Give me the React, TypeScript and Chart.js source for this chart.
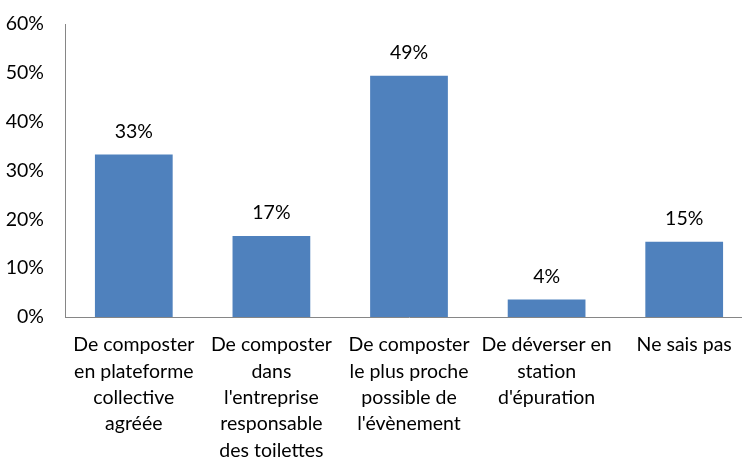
import React, { useEffect, useRef } from "react";
import { Chart, registerables } from "chart.js";

Chart.register(...registerables);

const categories: string[][] = [
  ["De composter", "en plateforme", "collective", "agréée"],
  ["De composter", "dans", "l'entreprise", "responsable", "des toilettes"],
  ["De composter", "le plus proche", "possible de", "l'évènement"],
  ["De déverser en", "station", "d'épuration"],
  ["Ne sais pas"],
];
const values: number[] = [0.333, 0.166, 0.494, 0.036, 0.154];
const yTicks: number[] = [0, 0.1, 0.2, 0.3, 0.4, 0.5, 0.6];

const FONT = "Lato, 'Liberation Sans', sans-serif";
const SIZE = 19.5;

const labelPlugin = {
  id: "barLabels",
  afterDatasetsDraw(chart: any) {
    const ctx = chart.ctx;
    const meta = chart.getDatasetMeta(0);
    ctx.save();
    ctx.font = `${SIZE}px ${FONT}`;
    ctx.fillStyle = "#000000";
    ctx.textAlign = "center";
    ctx.textBaseline = "middle";
    meta.data.forEach((bar: any, i: number) => {
      const v = values[i];
      ctx.fillText(Math.round(v * 100) + "%", bar.x, bar.y - 23);
    });
    ctx.restore();
  },
};

export default function App() {
  const ref = useRef<HTMLCanvasElement | null>(null);
  useEffect(() => {
    if (!ref.current) return;
    const chart = new Chart(ref.current, {
      type: "bar",
      data: {
        labels: categories,
        datasets: [
          {
            data: values,
            backgroundColor: "#4F81BD",
            borderWidth: 0,
            barPercentage: 1,
            categoryPercentage: 0.565,
          },
        ],
      },
      options: {
        animation: false,
        responsive: true,
        maintainAspectRatio: false,
        layout: { padding: { left: 0, right: 7, top: 24, bottom: 0 } },
        plugins: {
          legend: { display: false },
          tooltip: { enabled: false },
        },
        scales: {
          x: {
            grid: { display: false, drawTicks: false },
            border: { display: true, color: "#868686", width: 1 },
            ticks: {
              color: "#000000",
              font: { family: FONT, size: SIZE, lineHeight: 1.35 },
              padding: 15,
              maxRotation: 0,
              autoSkip: false,
            },
            afterFit(scale: any) {
              scale.height = 140;
              scale.paddingLeft = 0;
              scale.paddingRight = 0;
            },
          },
          y: {
            min: 0,
            max: 0.6,
            afterBuildTicks(scale: any) {
              scale.ticks = yTicks.map((v) => ({ value: v }));
            },
            grid: { display: false, drawTicks: false },
            border: { display: true, color: "#868686", width: 1 },
            ticks: {
              color: "#000000",
              font: { family: FONT, size: SIZE },
              padding: 21,
              callback: (v: any) => Math.round(Number(v) * 100) + "%",
            },
            afterFit(scale: any) {
              scale.width = 65;
              scale.paddingTop = 0;
              scale.paddingBottom = 0;
            },
          },
        },
      },
      plugins: [labelPlugin],
    });
    return () => chart.destroy();
  }, []);
  return (
    <div
      style={{
        position: "fixed",
        left: 0,
        top: 0,
        width: 742,
        height: 457,
        overflow: "hidden",
        background: "#ffffff",
      }}
    >
      <div style={{ position: "absolute", left: 0, top: 0, width: 760, height: 457 }}>
        <canvas ref={ref} />
      </div>
    </div>
  );
}
